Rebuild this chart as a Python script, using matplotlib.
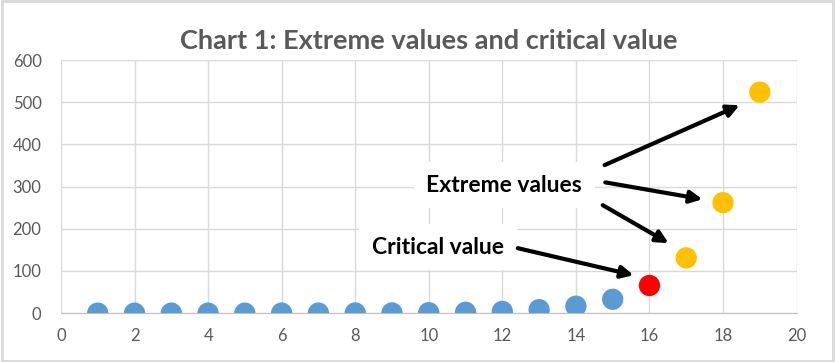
"""Scatter chart: extreme values and critical value."""

import matplotlib

matplotlib.use("Agg")
import matplotlib.pyplot as plt  # noqa: E402
from matplotlib.patches import Rectangle  # noqa: E402

# Data.
x_values = list(range(1, 20))
y_values = [0.0, 0.0, 0.0, 0.0, 0.0, 0.1, 0.1, 0.3, 0.5, 1.0,
            2.0, 4.1, 8.2, 16.4, 32.8, 65.5, 131, 262, 524]
point_groups = ["normal"] * 15 + ["critical"] + ["extreme"] * 3

group_colors = {"normal": "#5B9BD5", "critical": "#FF0000", "extreme": "#FFC000"}

x_ticks = [0, 2, 4, 6, 8, 10, 12, 14, 16, 18, 20]
y_ticks = [0, 100, 200, 300, 400, 500, 600]

title = "Chart 1: Extreme values and critical value"

# Callout labels: (text, text position, [arrow start, arrow end] pairs).
callouts = [
    ("Extreme values", (12.05, 303),
     [((14.78, 351), (18.45, 493)),
      ((14.80, 310), (17.44, 270)),
      ((14.73, 256), (16.52, 166))]),
    ("Critical value", (10.25, 156),
     [((12.42, 154), (15.57, 90))]),
]

plt.rcParams["font.family"] = ["Lato", "DejaVu Sans"]
text_gray = "#595959"
grid_gray = "#D9D9D9"

fig = plt.figure(figsize=(8.35, 3.62), dpi=100)
ax = fig.add_axes([0.073, 0.135, 0.881, 0.699])

colors = [group_colors[g] for g in point_groups]
ax.scatter(x_values, y_values, s=235, c=colors, zorder=3, linewidths=0)

ax.set_xlim(x_ticks[0], x_ticks[-1])
ax.set_ylim(y_ticks[0], y_ticks[-1])
ax.set_xticks(x_ticks)
ax.set_yticks(y_ticks)
ax.grid(True, color=grid_gray, lw=1, zorder=0)
ax.set_axisbelow(True)
for side in ["top", "right", "left"]:
    ax.spines[side].set_visible(False)
ax.spines["bottom"].set_color("#BFBFBF")
ax.tick_params(length=0, labelsize=12, labelcolor=text_gray)
ax.tick_params(axis="x", pad=11)
ax.tick_params(axis="y", pad=14)

ax.set_title(title, fontsize=19.5, fontweight="bold", color=text_gray, pad=8)

for label, (tx, ty), arrows in callouts:
    ax.text(tx, ty, label, ha="center", va="center", fontsize=16.5,
            fontweight="bold", color="black", zorder=4,
            bbox=dict(facecolor="white", edgecolor="none", pad=9))
    for start, end in arrows:
        ax.annotate("", xy=end, xytext=start, zorder=5,
                    arrowprops=dict(arrowstyle="-|>", lw=3, color="black",
                                    mutation_scale=18, shrinkA=0, shrinkB=0))

# Light chart-area border like the spreadsheet export.
fig.patches.append(Rectangle((0.002, 0.003), 0.996, 0.994,
                             transform=fig.transFigure, fill=False,
                             edgecolor="#D9D9D9", lw=2))

fig.savefig("out.png", dpi=100)
plt.close(fig)
